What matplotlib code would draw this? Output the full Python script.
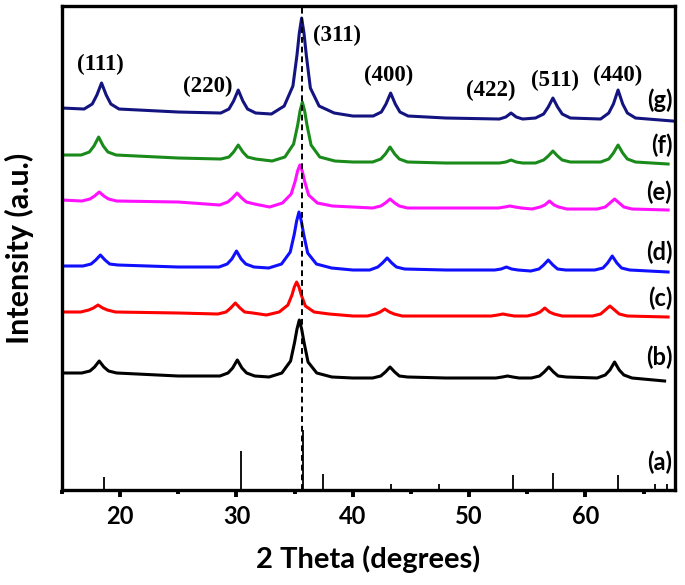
import matplotlib
matplotlib.use("Agg")
import matplotlib.pyplot as plt
from matplotlib.ticker import MultipleLocator

# intensities are in arbitrary units (stacked, already offset)
b_x = [15.1, 16.7, 17.4, 17.8, 18.2, 18.6, 19.0, 19.7, 25.0,
       28.57, 29.27, 29.67, 30.07, 30.47, 30.87, 31.57,
       32.8, 33.9, 34.65, 35.0, 35.2, 35.4, 35.6, 35.8, 36.15, 36.9, 38.2, 40.0,
       41.7, 42.4, 42.8, 43.2, 43.6, 44.0, 44.7, 48.0,
       52.3, 52.85, 53.3, 53.75, 54.3,
       55.35, 56.05, 56.45, 56.85, 57.25, 57.65, 58.35,
       61.0, 61.7, 62.1, 62.5, 62.9, 63.3, 64.0, 66.8]
b_y = [117, 117, 119, 123, 129, 123, 119, 117, 114,
       114, 117, 122, 130, 122, 117, 114,
       113, 117, 129, 148, 161, 170, 161, 148, 128, 117, 113, 112,
       112, 114, 118, 123, 118, 114, 113, 112,
       112, 113, 114, 113, 112,
       112, 114, 118, 123, 118, 114, 113,
       112, 115, 120, 128, 120, 115, 112, 109]

c_x = [15.0, 16.6, 17.3, 17.7, 18.1, 18.5, 18.9, 19.6, 25.0,
       28.4, 29.1, 29.5, 29.9, 30.3, 30.7, 31.4,
       32.57, 33.67, 34.42, 34.77, 34.97, 35.17, 35.37, 35.57, 35.92, 36.67, 37.97, 40.0,
       41.25, 41.95, 42.35, 42.75, 43.15, 43.55, 44.25, 48.0,
       51.9, 52.45, 52.9, 53.35, 53.9,
       55.0, 55.7, 56.1, 56.5, 56.9, 57.3, 58.0,
       60.6, 61.3, 61.7, 62.1, 62.5, 62.9, 63.6, 67.1]
c_y = [178, 178, 180, 182, 185, 182, 180, 178, 177,
       176, 178, 182, 187, 182, 178, 177,
       175, 178, 185, 195, 203, 208, 203, 195, 184, 178, 176, 174,
       174, 176, 178, 181, 178, 176, 174, 174,
       174, 175, 176, 175, 174,
       174, 176, 178, 182, 178, 176, 174,
       174, 176, 180, 184, 180, 176, 174, 173]

d_x = [15.0, 16.8, 17.5, 17.9, 18.3, 18.7, 19.1, 19.8, 25.0,
       28.5, 29.2, 29.6, 30.0, 30.4, 30.8, 31.5,
       32.77, 33.87, 34.62, 34.97, 35.17, 35.37, 35.57, 35.77, 36.12, 36.87, 38.17, 40.0,
       41.45, 42.15, 42.55, 42.95, 43.35, 43.75, 44.45, 48.0,
       52.2, 52.75, 53.2, 53.65, 54.2,
       55.3, 56.0, 56.4, 56.8, 57.2, 57.6, 58.3,
       60.8, 61.5, 61.9, 62.3, 62.7, 63.1, 63.8, 67.1]
d_y = [224, 224, 226, 230, 235, 230, 226, 225, 223,
       223, 226, 231, 239, 231, 226, 223,
       222, 226, 238, 256, 269, 278, 269, 256, 237, 226, 222, 220,
       220, 223, 227, 232, 227, 223, 221, 220,
       220, 221, 223, 221, 220,
       219, 221, 225, 230, 225, 221, 220,
       220, 222, 227, 234, 227, 222, 220, 218]

e_x = [15.0, 16.7, 17.4, 17.8, 18.2, 18.6, 19.0, 19.7, 25.0,
       28.55, 29.25, 29.65, 30.05, 30.45, 30.85, 31.55,
       32.85, 33.95, 34.7, 35.05, 35.25, 35.45, 35.65, 35.85, 36.2, 36.95, 38.25, 40.0,
       41.7, 42.4, 42.8, 43.2, 43.6, 44.0, 44.7, 48.0,
       52.5, 53.05, 53.5, 53.95, 54.5,
       55.4, 56.1, 56.5, 56.9, 57.3, 57.7, 58.4,
       61.0, 61.7, 62.1, 62.5, 62.9, 63.3, 64.0, 67.1]
e_y = [290, 289, 291, 294, 298, 294, 291, 289, 288,
       285, 288, 292, 297, 292, 288, 286,
       283, 287, 296, 309, 319, 325, 319, 309, 295, 287, 284, 283,
       282, 284, 287, 291, 287, 284, 282, 282,
       282, 283, 284, 283, 282,
       281, 283, 285, 289, 285, 283, 281,
       281, 283, 287, 291, 287, 283, 281, 280]

f_x = [15.0, 16.65, 17.35, 17.75, 18.15, 18.55, 18.95, 19.65, 25.0,
       28.65, 29.35, 29.75, 30.15, 30.55, 30.95, 31.65,
       33.06, 34.16, 34.91, 35.26, 35.46, 35.66, 35.86, 36.06, 36.41, 37.16, 38.46, 40.0,
       41.7, 42.4, 42.8, 43.2, 43.6, 44.0, 44.7, 48.0,
       52.6, 53.15, 53.6, 54.05, 54.6,
       55.7, 56.4, 56.8, 57.2, 57.6, 58.0, 58.7,
       61.3, 62.0, 62.4, 62.8, 63.2, 63.6, 64.3, 67.1]
f_y = [335, 335, 338, 344, 353, 344, 338, 335, 332,
       331, 333, 338, 345, 338, 333, 331,
       329, 333, 346, 365, 379, 388, 379, 365, 345, 333, 329, 328,
       328, 331, 336, 343, 336, 331, 328, 327,
       327, 328, 330, 328, 327,
       327, 330, 334, 339, 334, 330, 328,
       328, 331, 337, 345, 337, 331, 328, 326]

g_x = [15.0, 16.9, 17.6, 18.0, 18.4, 18.8, 19.2, 19.9, 25.0,
       28.65, 29.35, 29.75, 30.15, 30.55, 30.95, 31.65,
       33.0, 34.1, 34.85, 35.2, 35.4, 35.6, 35.8, 36.0, 36.35, 37.1, 38.4, 40.0,
       41.75, 42.45, 42.85, 43.25, 43.65, 44.05, 44.75, 48.0,
       52.6, 53.15, 53.6, 54.05, 54.6,
       55.7, 56.4, 56.8, 57.2, 57.6, 58.0, 58.7,
       61.3, 62.0, 62.4, 62.8, 63.2, 63.6, 64.3, 67.5]
g_y = [382, 381, 386, 395, 407, 395, 386, 381, 378,
       377, 381, 389, 400, 389, 381, 377,
       376, 384, 404, 435, 457, 472, 457, 435, 402, 384, 377, 374,
       374, 378, 386, 397, 386, 378, 374, 372,
       371, 373, 377, 373, 371,
       372, 376, 383, 392, 383, 376, 372,
       371, 377, 386, 400, 386, 377, 372, 369]

# reference pattern (a)
ref_pos = [18.65, 30.4, 35.7, 37.4, 43.3, 47.4, 53.76, 57.2, 62.8, 66.0, 67.0]
ref_int = [13, 39, 60, 16, 6, 6, 15, 17, 15, 6, 6]

hkl_labels = ["(111)", "(220)", "(311)", "(400)", "(422)", "(511)", "(440)"]
hkl_x = [18.3, 27.5, 38.6, 43.05, 51.85, 57.35, 62.8]
hkl_y = [426, 404, 455, 415, 400, 410, 415]

sample_labels = ["(a)", "(b)", "(c)", "(d)", "(e)", "(f)", "(g)"]
sample_label_y = [28, 133, 192, 238, 298, 345, 390]

dashed_pos = 35.6

curves = [(b_x, b_y, "black"), (c_x, c_y, "red"), (d_x, d_y, "#1010ff"),
          (e_x, e_y, "#ff10ff"), (f_x, f_y, "#1a8a1a"), (g_x, g_y, "#141480")]

fig = plt.figure(figsize=(6.85, 5.85), dpi=100)
ax = fig.add_axes([0.0905, 0.1624, 0.895, 0.8273])

for xs, ys, col in curves:
    ax.plot(xs, ys, color=col, lw=2.2, solid_joinstyle="round")

ax.vlines(ref_pos, 0, ref_int, color="black", lw=1.3)
ax.axvline(dashed_pos, color="black", lw=1.4, ls=(0, (3, 2)))

for lab, x, y in zip(hkl_labels, hkl_x, hkl_y):
    ax.text(x, y, lab, ha="center", va="center", fontsize=16.5,
            fontweight="bold", family="Liberation Serif")

for lab, y in zip(sample_labels, sample_label_y):
    ax.text(67.45, y, lab, ha="right", va="center", fontsize=17,
            fontweight="bold", family="Lato")

ax.set_xlim(15, 67.7)
ax.set_ylim(0, 484)
ax.set_yticks([])
ax.xaxis.set_major_locator(MultipleLocator(10))
ax.xaxis.set_minor_locator(MultipleLocator(5))
ax.tick_params(axis="x", which="major", direction="out", length=5, width=2.8, pad=6)
ax.tick_params(axis="x", which="minor", direction="out", length=3, width=2.8)
for lab in ax.get_xticklabels():
    lab.set_fontweight("bold")
    lab.set_fontsize(17)
    lab.set_family("Lato")
for sp in ax.spines.values():
    sp.set_linewidth(2.4)

ax.set_xlabel("2 Theta (degrees)", fontsize=21, fontweight="bold", family="Lato")
ax.set_ylabel("Intensity (a.u.)", fontsize=22, fontweight="bold", family="Lato")
ax.xaxis.set_label_coords(0.5, -0.114)
ax.yaxis.set_label_coords(-0.046, 0.5)

fig.savefig("out.png", dpi=100)
